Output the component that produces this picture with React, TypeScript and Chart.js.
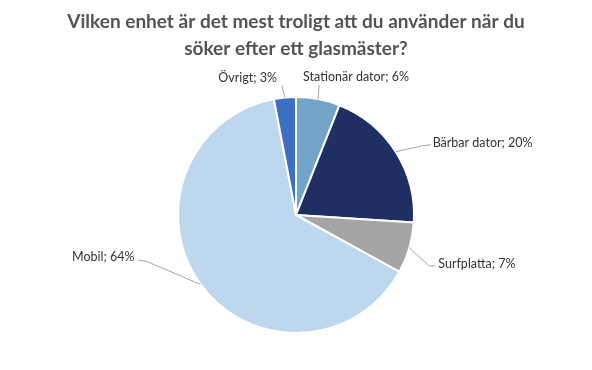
import React, { useEffect, useRef } from "react";
import { Chart, registerables } from "chart.js";

Chart.register(...registerables);

const titleLines = [
  "Vilken enhet är det mest troligt att du använder när du",
  "söker efter ett glasmäster?",
];
const categories = ["Stationär dator", "Bärbar dator", "Surfplatta", "Mobil", "Övrigt"];
const values = [6, 20, 7, 64, 3];
const colors = ["#72a3c9", "#1f2f63", "#a5a5a5", "#bdd7ee", "#3b6fc4"];

// label layout relative to the slice edge midpoint: leader line points + text anchor
const labelLayout = [
  { line: [[1, -14]], text: [-15, -22], align: "left" },
  { line: [[27, -6], [35, -7]], text: [37, -9], align: "left" },
  { line: [[20, 18], [26, 18]], text: [29, 16], align: "left" },
  { line: [[-54, -23], [-62, -24]], text: [-66, -27], align: "right" },
  { line: [[-3, -12]], text: [-8, -20], align: "right" },
];

const labelPlugin = {
  id: "outLabels",
  afterDraw(chart: any) {
    const ctx = chart.ctx;
    ctx.save();
    // title
    ctx.fillStyle = "#535353";
    ctx.font = "bold 19px Lato";
    ctx.textAlign = "center";
    ctx.textBaseline = "alphabetic";
    titleLines.forEach((t, i) => ctx.fillText(t, chart.width / 2, 28 + i * 27));

    const meta = chart.getDatasetMeta(0);
    meta.data.forEach((arc: any, i: number) => {
      const { x, y, startAngle, endAngle, outerRadius } = arc.getProps(
        ["x", "y", "startAngle", "endAngle", "outerRadius"],
        true
      );
      const mid = (startAngle + endAngle) / 2;
      const ex = x + Math.cos(mid) * outerRadius;
      const ey = y + Math.sin(mid) * outerRadius;
      const lay = labelLayout[i];
      ctx.strokeStyle = "#a6a6a6";
      ctx.lineWidth = 1;
      ctx.beginPath();
      ctx.moveTo(ex, ey);
      lay.line.forEach((p) => ctx.lineTo(ex + p[0], ey + p[1]));
      ctx.stroke();
      ctx.fillStyle = "#333333";
      ctx.font = "12.5px Lato";
      ctx.textAlign = lay.align as CanvasTextAlign;
      ctx.textBaseline = "middle";
      ctx.fillText(`${categories[i]}; ${values[i]}%`, ex + lay.text[0], ey + lay.text[1]);
    });
    ctx.restore();
  },
};

export default function App() {
  const ref = useRef<HTMLCanvasElement | null>(null);
  useEffect(() => {
    document.body.style.margin = "0";
    const chart = new Chart(ref.current as HTMLCanvasElement, {
      type: "pie",
      data: {
        labels: categories,
        datasets: [
          {
            data: values,
            backgroundColor: colors,
            borderColor: "#ffffff",
            borderWidth: 2,
          },
        ],
      },
      options: {
        animation: false,
        responsive: false,
        layout: { padding: { top: 96, bottom: 36, left: 0, right: 0 } },
        plugins: {
          legend: { display: false },
          title: { display: false },
          tooltip: { enabled: false },
        },
      },
      plugins: [labelPlugin],
    });
    return () => chart.destroy();
  }, []);
  return (
    <div style={{ width: 592, height: 370, background: "#fff" }}>
      <canvas ref={ref} width={592} height={370} style={{ width: 592, height: 370 }} />
    </div>
  );
}
